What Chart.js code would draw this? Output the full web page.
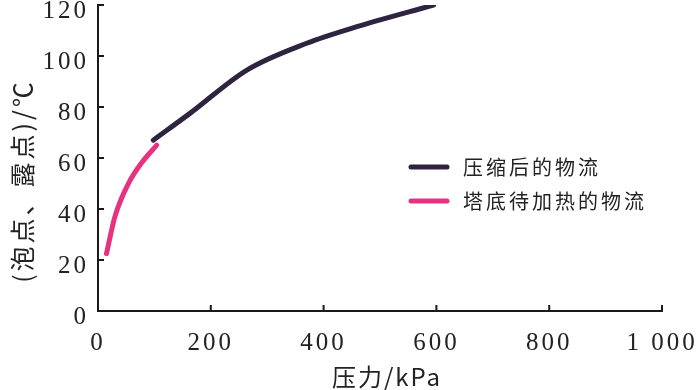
<!DOCTYPE html>
<html>
<head>
<meta charset="utf-8">
<script src="https://cdn.jsdelivr.net/npm/chart.js@4/dist/chart.umd.min.js"></script>
<style>
  body { margin: 0; background: #fff; }
  #wrap { width: 700px; height: 390px; }
</style>
</head>
<body>
<div id="wrap"><canvas id="chart"></canvas></div>
<script>
// 数据：压力(kPa) 与 泡点/露点(℃)
const seriesNames = ['压缩后的物流', '塔底待加热的物流'];
const compressedP = [98, 163, 264, 370, 459, 595];
const compressedT = [67, 77.5, 94.5, 105, 111.5, 120];
const bottomP = [15, 30, 54, 77, 104];
const bottomT = [22.5, 37, 50, 58, 65];
const xTicks = [0, 200, 400, 600, 800, 1000];
const yTicks = [0, 20, 40, 60, 80, 100, 120];

const colors = ['#2f2440', '#e8327f'];
const numFont = '"Liberation Serif", "DejaVu Serif", serif';
const cjkFont = '"Noto Sans CJK SC", sans-serif';

function pts(xs, ys) {
  return xs.map((x, i) => ({ x: x, y: ys[i] }));
}

// 向内的刻度、y轴刻度文字、坐标轴标题和图例
const decor = {
  id: 'decor',
  beforeDraw(chart) {
    chart.ctx.letterSpacing = '3px';
  },
  afterDraw(chart) {
    const ctx = chart.ctx;
    const xs = chart.scales.x, ys = chart.scales.y;
    const a = chart.chartArea;
    ctx.save();
    ctx.strokeStyle = '#1a1a1a';
    ctx.lineWidth = 2;
    ctx.beginPath();
    xTicks.forEach(v => {
      if (v === 0) return;
      const px = xs.getPixelForValue(v);
      ctx.moveTo(px, a.bottom); ctx.lineTo(px, a.bottom - 6);
    });
    yTicks.forEach(v => {
      if (v === 0) return;
      const py = ys.getPixelForValue(v);
      ctx.moveTo(a.left, py); ctx.lineTo(a.left + 6, py);
    });
    ctx.stroke();

    ctx.fillStyle = '#222';
    ctx.font = '25px ' + numFont;
    ctx.letterSpacing = '3px';
    ctx.textAlign = 'right';
    ctx.textBaseline = 'middle';
    yTicks.forEach(v => {
      ctx.fillText(String(v), a.left - 9, ys.getPixelForValue(v) + 6);
    });

    ctx.letterSpacing = '2px';
    ctx.font = '24px ' + cjkFont;
    ctx.textAlign = 'center';
    ctx.fillText('压力/kPa', 387, 377);
    ctx.save();
    ctx.translate(22, 181);
    ctx.rotate(-Math.PI / 2);
    ctx.letterSpacing = '3px';
    ctx.font = '25px ' + cjkFont;
    ctx.fillText('(泡点、露点)/℃', 0, 0);
    ctx.restore();

    // 图例
    ctx.font = '20px ' + cjkFont;
    ctx.letterSpacing = '3px';
    ctx.textAlign = 'left';
    seriesNames.forEach((name, i) => {
      const y = 167 + i * 34;
      ctx.strokeStyle = colors[i];
      ctx.lineWidth = 5;
      ctx.lineCap = 'round';
      ctx.beginPath();
      ctx.moveTo(411, y); ctx.lineTo(447, y);
      ctx.stroke();
      ctx.fillStyle = '#222';
      ctx.fillText(name, 463, y);
    });
    ctx.restore();
  }
};

new Chart(document.getElementById('chart'), {
  type: 'scatter',
  data: {
    datasets: [
      { label: seriesNames[0], data: pts(compressedP, compressedT), borderColor: colors[0] },
      { label: seriesNames[1], data: pts(bottomP, bottomT), borderColor: colors[1] }
    ].map(d => Object.assign(d, {
      showLine: true, borderWidth: 5, pointRadius: 0, borderCapStyle: 'round',
      cubicInterpolationMode: 'monotone', fill: false
    }))
  },
  options: {
    responsive: true,
    maintainAspectRatio: false,
    animation: false,
    layout: { padding: { top: 5, right: 38, left: 0, bottom: 0 } },
    plugins: { legend: { display: false }, tooltip: { enabled: false } },
    scales: {
      x: {
        type: 'linear', min: 0, max: 1000,
        afterFit(s) { s.height = 79; s.paddingRight = 0; s.paddingLeft = 0; },
        afterBuildTicks(s) { s.ticks = xTicks.map(v => ({ value: v })); },
        grid: { display: false },
        border: { display: true, color: '#1a1a1a', width: 2 },
        ticks: {
          color: '#222', padding: 9,
          font: { family: numFont, size: 25 },
          callback: v => v === 1000 ? '1 000' : String(v)
        }
      },
      y: {
        min: 0, max: 120,
        afterFit(s) { s.width = 98; s.paddingTop = 0; s.paddingBottom = 0; },
        afterBuildTicks(s) { s.ticks = yTicks.map(v => ({ value: v })); },
        grid: { display: false },
        border: { display: true, color: '#1a1a1a', width: 2 },
        ticks: { display: false }
      }
    }
  },
  plugins: [decor]
});
</script>
</body>
</html>
